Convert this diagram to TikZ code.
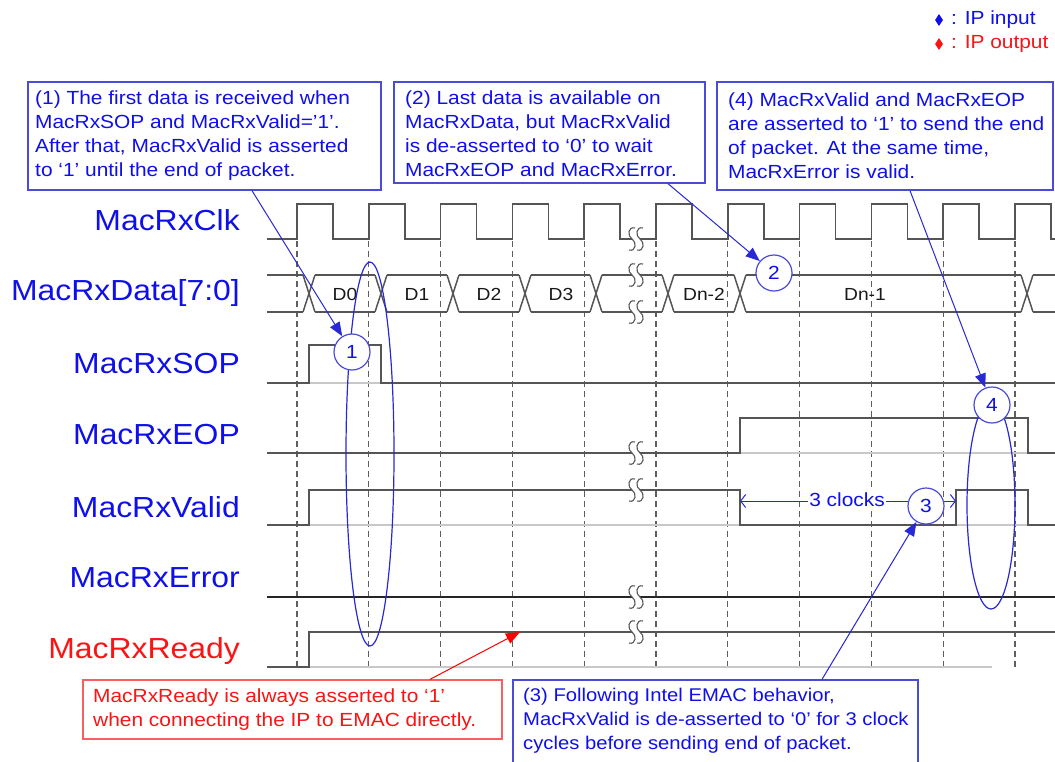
\documentclass[tikz,border=0pt]{standalone}
\usepackage{fontspec}
\setmainfont{Liberation Sans}[FakeStretch=1.1]
\usetikzlibrary{arrows.meta,shapes.geometric}
\definecolor{txtblue}{RGB}{15,15,235}
\definecolor{boxblue}{RGB}{75,75,215}
\definecolor{arrblue}{RGB}{40,40,215}
\definecolor{txtred}{RGB}{250,20,20}
\definecolor{boxred}{RGB}{250,95,95}
\definecolor{wavec}{RGB}{85,85,85}
\definecolor{basec}{RGB}{200,200,200}
\definecolor{dashc}{RGB}{95,95,95}
\newcommand{\sigfnt}{\fontsize{29}{32}\selectfont}
\newcommand{\callfnt}{\fontsize{19}{24}\selectfont}
\newcommand{\callfntb}{\fontsize{18.4}{24}\selectfont}
\newcommand{\datafnt}{\fontsize{17.5}{20}\selectfont}
\begin{document}
\begin{tikzpicture}[x=1pt,y=-1pt,
  wave/.style={draw=wavec, line width=1.5pt, line join=miter},
  errwave/.style={draw=black!85, line width=1.5pt},
  baseln/.style={draw=basec, line width=1.5pt},
  dashln/.style={draw=dashc, line width=1.2pt, dash pattern=on 6pt off 4pt},
  sig/.style={anchor=base east, inner sep=0pt, font=\sigfnt, text=txtblue},
  dlabel/.style={inner sep=0pt, font=\datafnt, text=black!90},
  callbox/.style={draw=boxblue, line width=1.3pt, fill=white, inner sep=0pt},
  redbox/.style={draw=boxred, line width=1.3pt, fill=white, inner sep=0pt},
  calltext/.style={anchor=west, inner sep=0pt, align=left, font=\callfnt, text=txtblue},
  num/.style={circle, draw=boxblue, line width=1.2pt, fill=white, minimum size=36pt, inner sep=0pt, text=txtblue, font=\callfnt},
  callarrow/.style={draw=arrblue, line width=1pt, -{Triangle[length=14pt,width=11pt]}},
  redarrow/.style={draw=red, line width=1pt, -{Triangle[length=14pt,width=11pt]}},
  dimarrow/.style={draw=arrblue, line width=1pt, {Straight Barb[length=5pt,width=13pt]}-{Straight Barb[length=5pt,width=13pt]}},
  oval/.style={draw=arrblue, line width=1.2pt},
  brk/.pic={
    \fill[white] (-4,-3.5) rectangle (4,3.5);
    \foreach \d in {-4,4}
      \draw[draw=wavec, line width=1.1pt] (\d+3,-11) .. controls (\d-4,-13) and (\d-5,-3) .. (\d,0) .. controls (\d+5,3) and (\d+4,13) .. (\d-3,11);
  }]
\useasboundingbox (0,0) rectangle (1055,761);

% legend
\node[diamond, fill=txtblue, minimum width=8pt, minimum height=12pt, inner sep=0pt] (dia1) at (939,20) {};
\node[anchor=west, inner sep=0pt, font=\callfnt, text=txtblue] (leg1) at (951,20) {: IP input};
\node[diamond, fill=txtred, minimum width=8pt, minimum height=12pt, inner sep=0pt] (dia2) at (939,44) {};
\node[anchor=west, inner sep=0pt, font=\callfnt, text=txtred] (leg2) at (951,44) {: IP output};

% signal labels
\node[sig] (lclk) at (240,230) {MacRxClk};
\node[sig] (ldata) at (240,300) {MacRxData[7:0]};
\node[sig] (lsop) at (240,373) {MacRxSOP};
\node[sig] (leop) at (240,444) {MacRxEOP};
\node[sig] (lvalid) at (240,517) {MacRxValid};
\node[sig] (lerr) at (240,587) {MacRxError};
\node[sig, text=txtred] (lready) at (240,658) {MacRxReady};

% dashed clock-edge guides
\foreach \k in {0,...,10}
  \draw[dashln] ({297+71.8*\k},241) -- ({297+71.8*\k},667);

% gray baselines
\draw[baseln] (267,383) -- (1055,383);
\draw[baseln] (267,453) -- (1055,453);
\draw[baseln] (267,525) -- (1055,525);
\draw[baseln] (267,667) -- (992,667);

% clock
\draw[wave] (267,239) foreach \k in {0,...,10}{ -- ({297+71.8*\k},239) -- ({297+71.8*\k},204) -- ({333+71.8*\k},204) -- ({333+71.8*\k},239)} -- (1055,239);

% data bus
\foreach \a/\b in {267/303, 315/375, 387/447, 459/519, 531/590, 602/662, 674/734, 746/1021, 1033/1055}{
  \draw[wave] (\a,275) -- (\b,275);
  \draw[wave] (\a,312) -- (\b,312);
}
\foreach \c in {309,381,453,525,596,668,740,1027}{
  \draw[wave] (\c-6,275) -- (\c+6,312);
  \draw[wave] (\c-6,312) -- (\c+6,275);
}
\node[dlabel] (d0) at (345,294) {D0};
\node[dlabel] (d1) at (417,294) {D1};
\node[dlabel] (d2) at (489,294) {D2};
\node[dlabel] (d3) at (561,294) {D3};
\node[dlabel] (dn2) at (704,294) {Dn-2};
\node[dlabel] (dn1) at (865,294) {Dn-1};

% SOP
\draw[wave] (267,383) -- (309,383) -- (309,345) -- (381,345) -- (381,383) -- (1055,383);
% EOP
\draw[wave] (267,453) -- (740,453) -- (740,418) -- (1028,418) -- (1028,453) -- (1055,453);
% Valid
\draw[wave] (267,525) -- (309,525) -- (309,490) -- (740,490) -- (740,525) -- (956,525) -- (956,490) -- (1028,490) -- (1028,525) -- (1055,525);
% Error
\draw[errwave] (267,597) -- (1055,597);
% Ready
\draw[wave] (267,667) -- (309,667) -- (309,632) -- (1055,632);

% breaks
\foreach \y in {239,275,312,453,490,597,632}
  \pic at (636,\y) {brk};

% ovals
\draw[oval] (370,454) ellipse [x radius=24, y radius=192];
\draw[oval] (991,505) ellipse [x radius=24, y radius=104];

% callout boxes
\node[callbox, minimum width=353pt, minimum height=108pt] (b1) at (204.5,136) {};
\node[calltext] (t1) at (35,136)
  {(1) The first data is received when\\MacRxSOP and MacRxValid=’1’.\\After that, MacRxValid is asserted\\to ‘1’ until the end of packet.};
\node[callbox, minimum width=311pt, minimum height=101pt] (b2) at (549.5,132.5) {};
\node[calltext] (t2) at (405,134)
  {(2) Last data is available on\\MacRxData, but MacRxValid\\is de-asserted to ‘0’ to wait\\MacRxEOP and MacRxError.};
\node[callbox, minimum width=336pt, minimum height=108pt] (b4) at (885,136) {};
\node[calltext] (t4) at (728,136)
  {(4) MacRxValid and MacRxEOP\\are asserted to ‘1’ to send the end\\of packet. At the same time,\\MacRxError is valid.};
\node[redbox, minimum width=419pt, minimum height=59pt] (br) at (292.5,709.5) {};
\node[calltext, text=txtred] (tr) at (93,709.5)
  {MacRxReady is always asserted to ‘1’\\when connecting the IP to EMAC directly.};
\node[callbox, minimum width=405pt, minimum height=96pt] (b3) at (715.5,728) {};
\node[calltext, font=\callfntb] (t3) at (523,721)
  {(3) Following Intel EMAC behavior,\\MacRxValid is de-asserted to ‘0’ for 3 clock\\cycles before sending end of packet.};

% 3 clocks dimension
\coordinate (v1) at (740,501);
\coordinate (v2) at (956,501);
\draw[dimarrow] (v1) -- (v2);
\node[fill=white, inner xsep=1pt, inner ysep=2pt, font=\callfnt, text=txtblue] (clk3) at (847,500) {3 clocks};

% numbered circles
\node[num] (c1) at (352,352) {1};
\node[num] (c2) at (774,273) {2};
\node[num] (c3) at (926,506) {3};
\node[num] (c4) at (992,405) {4};

% connectors
\draw[callarrow] ([xshift=47.5pt]b1.south) -- (c1);
\draw[callarrow] ([xshift=118.5pt]b2.south) -- (c2);
\draw[callarrow] ([xshift=25pt]b4.south) -- (c4);
\draw[callarrow] ([xshift=106.5pt]b3.north) -- (c3);
\coordinate (rtip) at (520,632);
\draw[redarrow] ([xshift=137.5pt]br.north) -- (rtip);
\end{tikzpicture}
\end{document}
